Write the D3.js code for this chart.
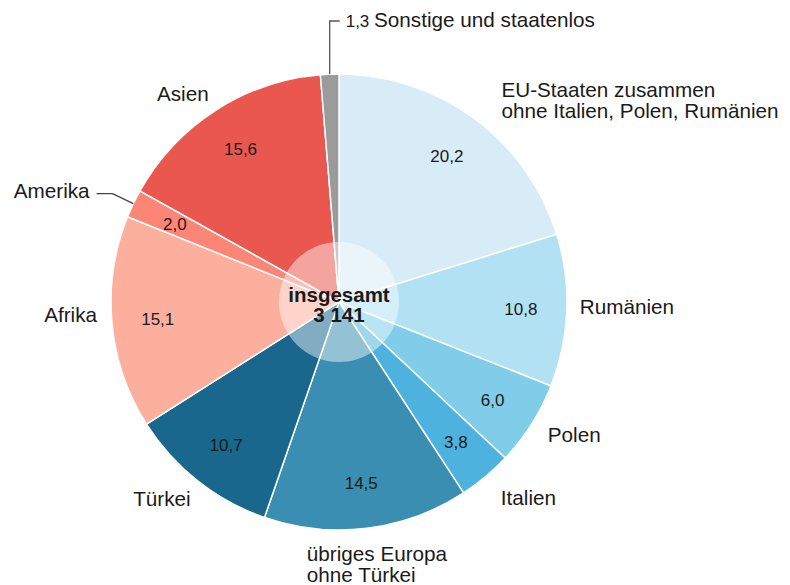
<!DOCTYPE html>
<html>
<head>
<meta charset="utf-8">
<script src="https://cdn.jsdelivr.net/npm/d3@7"></script>
<style>
  body { margin: 0; background: #fff; }
  svg text { font-family: "Liberation Sans", Arial, Helvetica, sans-serif; fill: #1a1a1a; }
</style>
</head>
<body>
<div id="chart"></div>
<script>
// --- Data ---
const groups = [
    "EU-Staaten zusammen|ohne Italien, Polen, Rumänien",
    "Rumänien",
    "Polen",
    "Italien",
    "übriges Europa|ohne Türkei",
    "Türkei",
    "Afrika",
    "Amerika",
    "Asien",
    "Sonstige und staatenlos"
];
const shares = [20.2, 10.8, 6.0, 3.8, 14.5, 10.7, 15.1, 2.0, 15.6, 1.3];
const colors = ["#d8ecf8", "#b2e1f3", "#7fcde8", "#4db3de", "#3a8eb1",
                "#19678c", "#fdaf9e", "#fc8676", "#e9574f", "#9b9b9b"];
const totalLabel = ["insgesamt", "3 141"];

// label placement around the pie (anchor + nudge from computed point)
const labelLayout = [
    { anchor: "start", dx: 13, dy: -2 },
    { anchor: "start", dx: -11, dy: 2 },
    { anchor: "start", dx: -4, dy: 5 },
    { anchor: "start", dx: 0, dy: 10 },
    { anchor: "start", dx: -63, dy: 9 },
    { anchor: "end", dx: 8, dy: 6 },
    { anchor: "end", dx: 9, dy: -3 },
    { anchor: "leader-left" },
    { anchor: "end", dx: 6, dy: 11 },
    { anchor: "leader-top" }
];

const width = 790, height = 585;
const cx = 339, cy = 302, radius = 228;
const labelSize = "20.7px", valueSize = "17px";
const fmt = v => d3.format(".1f")(v).replace(".", ",");

const svg = d3.select("#chart").append("svg")
    .attr("width", width)
    .attr("height", height);

const g = svg.append("g").attr("transform", `translate(${cx},${cy})`);

const data = groups.map((name, i) => ({ name, value: shares[i], i }));

const pie = d3.pie().sort(null).value(d => d.value);
const arcs = pie(data);
const arc = d3.arc().innerRadius(0).outerRadius(radius);
const numArc = d3.arc().innerRadius(182).outerRadius(182);

g.selectAll("path.slice")
    .data(arcs)
    .join("path")
    .attr("class", "slice")
    .attr("d", arc)
    .attr("fill", d => colors[d.data.i])
    .attr("stroke", "#fff")
    .attr("stroke-width", 1.5);

// values inside (not for the tiny grey slice)
g.selectAll("text.val")
    .data(arcs.filter(d => d.data.i !== 9))
    .join("text")
    .attr("class", "val")
    .attr("transform", d => `translate(${numArc.centroid(d)})`)
    .attr("text-anchor", "middle")
    .attr("dy", "0.36em")
    .style("font-size", valueSize)
    .text(d => fmt(d.data.value));

// centre disc
g.append("circle")
    .attr("r", 60)
    .attr("fill", "#fff")
    .attr("fill-opacity", 0.46);

g.selectAll("text.total")
    .data(totalLabel)
    .join("text")
    .attr("class", "total")
    .attr("text-anchor", "middle")
    .attr("y", (d, i) => i * 20)
    .style("font-size", "20.5px")
    .style("font-weight", "bold")
    .text(d => d);

// outer labels
const pointAt = (angle, r) => [Math.sin(angle) * r, -Math.cos(angle) * r];
const mid = d => (d.startAngle + d.endAngle) / 2;

arcs.forEach(d => {
    const lay = labelLayout[d.data.i];
    const a = mid(d);
    const lines = d.data.name.split("|");

    if (lay.anchor === "leader-top") {
        const [x0, y0] = pointAt(a, radius);
        const ly = -cy + 21;
        g.append("path")
            .attr("d", `M${x0},${y0}V${ly}H${x0 + 10}`)
            .attr("fill", "none")
            .attr("stroke", "#555")
            .attr("stroke-width", 1.3);
        const t = g.append("text")
            .attr("x", x0 + 16)
            .attr("y", ly + 6)
            .style("font-size", labelSize);
        t.append("tspan").style("font-size", valueSize).text(fmt(d.data.value) + " ");
        t.append("tspan").text(lines[0]);
        return;
    }
    if (lay.anchor === "leader-left") {
        const [x0, y0] = pointAt(a, radius);
        const [x1, y1] = pointAt(a, radius + 23);
        g.append("path")
            .attr("d", `M${x0},${y0}L${x1},${y1}H${x1 - 16}`)
            .attr("fill", "none")
            .attr("stroke", "#444")
            .attr("stroke-width", 1.3);
        g.append("text")
            .attr("x", x1 - 23)
            .attr("y", y1 + 4)
            .attr("text-anchor", "end")
            .style("font-size", labelSize)
            .text(lines[0]);
        return;
    }
    const [px, py] = pointAt(a, 252);
    g.append("text")
        .attr("text-anchor", lay.anchor)
        .style("font-size", labelSize)
        .selectAll("tspan")
        .data(lines)
        .join("tspan")
        .attr("x", px + lay.dx)
        .attr("y", (l, j) => py + lay.dy + j * 21)
        .text(l => l);
});
</script>
</body>
</html>
